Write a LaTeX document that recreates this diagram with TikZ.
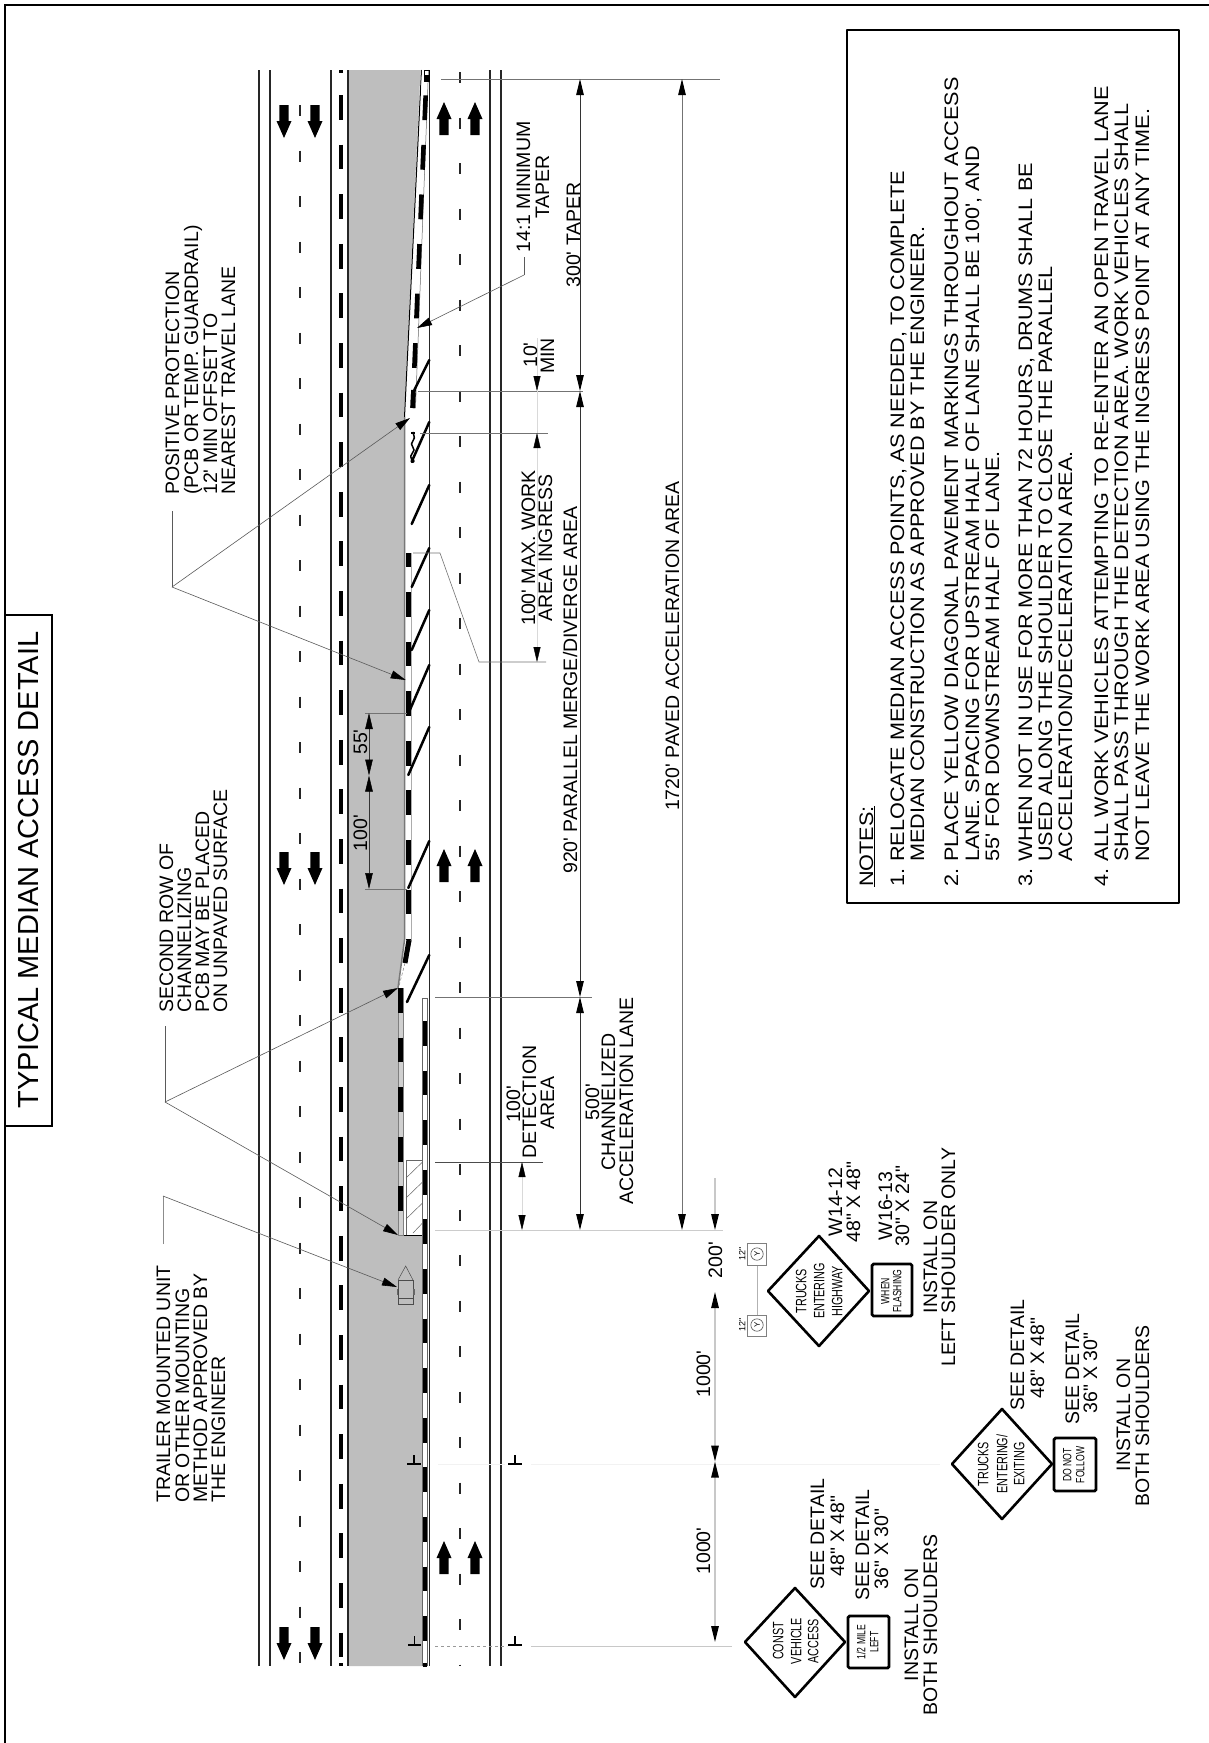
\documentclass[tikz,border=0pt]{standalone}
\usepackage{fontspec}
\newfontfamily\arl{Liberation Sans}
\newfontfamily\arlc[FakeStretch=0.72]{Liberation Sans}
\newfontfamily\arlw[FakeStretch=1.11]{Liberation Sans}
\usetikzlibrary{arrows.meta,calc}
\definecolor{paved}{RGB}{190,190,190}
\definecolor{edgegray}{RGB}{120,120,120}
\definecolor{barlight}{RGB}{208,208,208}
\definecolor{leadgray}{RGB}{90,90,90}
\definecolor{faintgray}{RGB}{200,200,200}
\tikzset{
 tipa/.tip={Triangle[length=16pt,width=7.5pt,color=black,fill=black]},
 tipb/.tip={Triangle[length=15pt,width=7pt,color=black,fill=black]},
 tipc/.tip={Triangle[length=15pt,width=8pt,color=black,fill=black]},
 lbl/.style={font=\fontsize{19.5}{20}\arl,inner sep=0pt,text height=14pt,text depth=0pt,rotate=90},
 notetxt/.style={font=\fontsize{19.5}{20}\arlw,inner sep=0pt,text height=14pt,text depth=0pt,rotate=90,anchor=west},
 signa/.style={font=\fontsize{15}{16}\arlc,inner sep=0pt,text height=10.7pt,text depth=0pt,rotate=90},
 signb/.style={font=\fontsize{12}{13}\arlc,inner sep=0pt,text height=8.6pt,text depth=0pt,rotate=90},
 iconlbl/.style={font=\fontsize{9}{10}\arl,inner sep=0pt,text height=6.5pt,text depth=0pt,rotate=90},
 roadline/.style={line width=1.4pt,draw=black!85},
 lanedash/.style={line width=1.3pt,draw=black!85,dash pattern=on 11pt off 34.5pt},
 bardash/.style={line width=5pt,draw=black,dash pattern=on 24.8pt off 24.8pt},
 diag/.style={line width=2.5pt,draw=black,line cap=round},
 leader/.style={line width=0.6pt,draw=leadgray},
 leadarrow/.style={line width=0.6pt,draw=leadgray,-tipc},
 dimline/.style={line width=0.9pt,draw=black!80,tipa-tipa},
 faintdim/.style={line width=0.4pt,draw=black!15},
 ext/.style={line width=0.7pt,draw=black!55},
 diamondsign/.style={line width=2.6pt,draw=black,line join=round,fill=white},
 boxsign/.style={line width=2.8pt,draw=black,rounded corners=1.5pt,fill=white},
 bigarrow/.style={fill=black,draw=none},
}
\newcommand{\dnarrow}[2]{\fill[bigarrow] (#1-4.7,#2) -- (#1+4.7,#2) -- (#1+4.7,#2+16) -- (#1+7.5,#2+16) -- (#1,#2+33) -- (#1-7.5,#2+16) -- (#1-4.7,#2+16) -- cycle;}
\newcommand{\uparrowx}[2]{\fill[bigarrow] (#1-4.7,#2) -- (#1+4.7,#2) -- (#1+4.7,#2-16) -- (#1+7.5,#2-16) -- (#1,#2-33) -- (#1-7.5,#2-16) -- (#1-4.7,#2-16) -- cycle;}
\newcommand{\marker}[3]{\draw[line width=2pt] (#1,#2) -- (#3,#2); \draw[line width=1.6pt] ({(#1+#3)/2},#2) -- ({(#1+#3)/2},#2-9);}
\begin{document}
\begin{tikzpicture}[x=1pt,y=-1pt]
\useasboundingbox (0,0) rectangle (1209,1743);
\fill[white] (0,0) rectangle (1209,1743);
% sheet border
\draw[line width=2pt] (5,1743) -- (5,5) -- (1209,5);
% title box
\draw[line width=1.6pt] (5,615) -- (52,615) -- (52,1126) -- (5,1126);
\node[font=\fontsize{29}{30}\arl,inner sep=0pt,text height=20.8pt,text depth=0pt,rotate=90] (title) at (28,870) {TYPICAL MEDIAN ACCESS DETAIL};
% paved median
\fill[paved] (349,70) -- (420.5,70) -- (404,417) -- (404,940) -- (398,988) -- (398,1235) -- (423,1235) -- (423,1666) -- (349,1666) -- cycle;
\draw[line width=1pt,draw=black] (421.5,70) -- (404.5,417);
\draw[line width=1.5pt,draw=edgegray] (404.5,417) -- (404.5,940) -- (398,988);
\draw[line width=2pt,draw=edgegray] (423,1235) -- (423,1666);
\draw[line width=0.9pt,draw=black] (398,1235) -- (423,1235);
% road lines
\foreach \xx in {259,270,331,348,490,501}{\draw[roadline] (\xx,70) -- (\xx,1666);}
\draw[roadline] (429.3,70) -- (429.3,1666);
% lane lines
\draw[lanedash] (300,105) -- (300,1666);
\draw[lanedash] (460,72) -- (460,1666);
% median edge line
\draw[bardash,line width=4.6pt] (341,95) -- (341,1666);
\draw[line width=4.6pt] (341,70) -- (341,73);
\draw[line width=4.6pt] (341,1663) -- (341,1666);
% travel arrows
\foreach \yy in {105,852,1627}{\dnarrow{284}{\yy}\dnarrow{315}{\yy}}
\foreach \yy in {135,882,1574}{\uparrowx{444}{\yy}\uparrowx{475}{\yy}}
% taper barrier
\fill[white] (422,70) -- (428.5,70) -- (415.5,408) -- (409.5,408) -- cycle;
\draw[line width=0.5pt,draw=black!60] (428.5,70) -- (415.5,408);
\draw[line width=4.6pt,dash pattern=on 24.8pt off 24.8pt,dash phase=24.8pt] (426.7,70.6) -- (412.7,408);
\draw[line width=1pt] (424,70) rectangle (429,81);
\fill (424.5,75) rectangle (428.5,81);
\draw[line width=4.6pt] (413.5,390) -- (412.7,408);
% parallel barrier
\fill[white] (406,553) rectangle (411.5,940);
\draw[line width=0.5pt,draw=black!50] (411.5,553) -- (411.5,940) -- (406,963);
\draw[line width=5pt] (408.7,553) -- (408.7,567);
\draw[bardash] (408.7,592) -- (408.7,940);
\draw[line width=5pt] (409,940) -- (405,963);
\draw[line width=0.5pt,dash pattern=on 3pt off 2pt,draw=black!50] (405,963) -- (398.5,988);
% second row on pavement
\draw[line width=0.4pt,draw=black!50,fill=barlight] (398,988) rectangle (403.5,1235);
\draw[bardash,line width=5.5pt] (400.7,988) -- (400.7,1235);
% hatched detection area
\draw[line width=0.6pt,draw=black!60] (406,1235) -- (406,1160) -- (426,1160);
\draw[line width=0.5pt,draw=black!60] (406,1178) -- (422.5,1162) (406,1198) -- (422.5,1182) (406,1219) -- (422.5,1203) (413,1233) -- (422.5,1223);
% channelizing barrier at lane
\draw[line width=0.5pt,draw=black!60,fill=white] (422.7,1666) -- (422.7,998) -- (427.6,998) -- (427.6,1666);
\draw[bardash,line width=4.6pt] (425.1,1021) -- (425.1,1666);
\draw[line width=4.6pt] (425.1,1663) -- (425.1,1666);
% diagonals
\draw[diag] (429.3,360) -- (414.3,390);
\draw[diag] (429.3,422) -- (411.7,461.7);
\draw[diag] (429.3,485) -- (411.7,524);
\draw[diag] (429.3,548) -- (411.7,587);
\draw[diag] (429.3,610) -- (411.7,650);
\draw[diag] (429.3,665) -- (409,712);
\draw[diag] (429.3,727) -- (408.3,775);
\draw[diag] (429.3,841) -- (408.3,888);
\draw[diag] (429.3,955) -- (407,1002);
% squiggle
\draw[line width=1.5pt] plot[smooth] coordinates {(412.7,432) (414.3,438) (411.5,444) (414,450) (410.8,456) (412.7,462)};
\draw[line width=1.5pt] (411,433) -- (414.5,433);
\fill (412.7,461) circle (2pt);
% trailer unit
\draw[line width=0.5pt,draw=black!70] (398,1280) rectangle (413,1298);
\draw[line width=0.5pt,draw=black!70] (398,1280) -- (405.7,1266) -- (413,1280);
\draw[line width=0.5pt,draw=black!70] (398,1298) rectangle (413,1304);
\fill[black!60] (396.5,1289) rectangle (398,1295);
\fill[black!60] (413,1289) rectangle (415,1295);
% T markers
\marker{407}{1464}{421}
\marker{508}{1464}{522}
\marker{408}{1645}{421}
\marker{508}{1645}{522}
% extension lines
\draw[ext] (441,79) -- (720,79);
\draw[ext] (418,391) -- (583,391);
\draw[ext] (420,433) -- (548,433);
\draw[ext] (435,997) -- (592,997);
\draw[ext,draw=black!70] (435,1162) -- (543,1162);
\draw[ext,draw=black!20] (435,1230) -- (723,1230);
\draw[ext,draw=black!5,line width=0.5pt] (438,1464) -- (505,1464) (531,1464) -- (940,1464);
\draw[ext,dashed,draw=black!40] (435,1646) -- (507,1646);
\draw[ext,line width=1pt,draw=faintgray] (531,1646) -- (732,1646);
\draw[ext] (365,713) -- (407,713);
\draw[ext] (365,889) -- (407,889);
% leader 100' max
\coordinate (m1) at (413,553); \coordinate (m2) at (440,553); \coordinate (m3) at (479,662); \coordinate (m4) at (546,662);
\draw[leader,draw=black!55] (m1) -- (m2) -- (m3) -- (m4);
% dimension lines
\coordinate (d79) at (580,79); \coordinate (d391) at (580,391); \coordinate (d997) at (580,997); \coordinate (d1230) at (580,1230);
\draw[dimline] (d79) -- (d391);
\draw[dimline] (d391) -- (d997);
\draw[dimline] (d997) -- (d1230);
\coordinate (p79) at (682,79); \coordinate (p1230) at (682,1230);
\draw[dimline,draw=black!55] (p79) -- (p1230);
\coordinate (s1) at (715,1178); \coordinate (s2) at (715,1230); \coordinate (s3) at (715,1292); \coordinate (s4) at (715,1461.5); \coordinate (s5) at (715,1642);
\draw[line width=1.3pt,draw=faintgray,-tipa] (s1) -- (s2);
\draw[line width=1.3pt,draw=faintgray,tipa-tipa] (s3) -- (s4);
\draw[line width=1.3pt,draw=faintgray,tipa-tipa] (s4) -- (s5);
% small dims
\coordinate (a1) at (369,713); \coordinate (a2) at (369,775.5); \coordinate (a3) at (369,889);
\draw[dimline,line width=0.5pt] (a1) -- (a2);
\draw[dimline,line width=0.5pt] (a2) -- (a3);
\coordinate (w1) at (537,338); \coordinate (w2) at (537,391); \coordinate (w3) at (537,433); \coordinate (w4) at (537,662);
\draw[faintdim,-tipb] (w1) -- (w2);
\draw[faintdim] (w2) -- (w3);
\draw[faintdim,tipb-tipb] (w3) -- (w4);
\coordinate (e1) at (522,1162); \coordinate (e2) at (522,1230);
\draw[faintdim,tipb-tipb] (e1) -- (e2);
% leaders with arrows
\coordinate (pa) at (172,511); \coordinate (pb) at (172,587); \coordinate (pt1) at (410,418); \coordinate (pt2) at (405.7,680);
\draw[leader] (pa) -- (pb);
\draw[leadarrow] (pb) -- (pt1);
\draw[leadarrow] (pb) -- (pt2);
\coordinate (sa) at (165,1026); \coordinate (sb) at (165,1102); \coordinate (st1) at (398,988); \coordinate (st2) at (398,1235);
\draw[leader] (sa) -- (sb);
\draw[leadarrow] (sb) -- (st1);
\draw[leadarrow] (sb) -- (st2);
\coordinate (ta) at (163,1244); \coordinate (tb) at (163,1196); \coordinate (tt) at (397,1287);
\draw[leader,draw=black!45] (ta) -- (tb);
\draw[leadarrow] (tb) -- (tt);
\coordinate (ma) at (524,257); \coordinate (mb) at (524,275); \coordinate (mt) at (417,328);
\draw[leader] (ma) -- (mb);
\draw[leadarrow] (mb) -- (mt);
% signs: trucks entering highway
\draw[diamondsign] (768,1291) -- (819,1236) -- (869,1291) -- (819,1346) -- cycle;
\node[signa] (s1a) at (801,1291) {TRUCKS};
\node[signa] (s1b) at (819,1291) {ENTERING};
\node[signa] (s1c) at (837,1291) {HIGHWAY};
\draw[boxsign] (872,1264) rectangle (912,1316);
\node[signb] (s1d) at (885,1291) {WHEN};
\node[signb] (s1e) at (897,1291) {FLASHING};
\node[lbl] (t1a) at (835,1202) {W14-12};
\node[lbl] (t1b) at (853,1202) {48" X 48"};
\node[lbl] (t1c) at (885,1206) {W16-13};
\node[lbl] (t1d) at (902,1206) {30" X 24"};
\node[lbl] (t1e) at (930,1257) {INSTALL ON};
\node[lbl] (t1f) at (948,1257) {LEFT SHOULDER ONLY};
% Y icons
\draw[line width=0.5pt,draw=black!30] (757,1265) -- (757,1315);
\draw[line width=0.7pt,draw=black!50] (747,1243) rectangle (766,1265);
\draw[line width=0.7pt,draw=black!50] (747,1315) rectangle (766,1336);
\draw[line width=0.6pt,draw=black!70] (757,1254) circle (6.2pt);
\draw[line width=0.6pt,draw=black!70] (757,1325) circle (6.2pt);
\node[iconlbl,font=\fontsize{8}{9}\arl,text height=5.7pt] (ya) at (757,1254) {Y};
\node[iconlbl,font=\fontsize{8}{9}\arl,text height=5.7pt] (yb) at (757,1325) {Y};
\node[iconlbl] (yc) at (742,1254) {12"};
\node[iconlbl] (yd) at (742,1325) {12"};
% sign 2
\draw[diamondsign] (952,1464) -- (1002,1409) -- (1052,1464) -- (1002,1519) -- cycle;
\node[signa] (s2a) at (983,1464) {TRUCKS};
\node[signa] (s2b) at (1002,1464) {ENTERING/};
\node[signa] (s2c) at (1019,1464) {EXITING};
\draw[boxsign] (1054,1438) rectangle (1096,1491);
\node[signb] (s2d) at (1067,1465) {DO NOT};
\node[signb] (s2e) at (1080,1465) {FOLLOW};
\node[lbl] (t2a) at (1017,1355) {SEE DETAIL};
\node[lbl] (t2b) at (1037,1358) {48" X 48"};
\node[lbl] (t2c) at (1072,1369) {SEE DETAIL};
\node[lbl] (t2d) at (1090,1373) {36" X 30"};
\node[lbl] (t2e) at (1123,1415) {INSTALL ON};
\node[lbl] (t2f) at (1142,1416) {BOTH SHOULDERS};
% sign 3
\draw[diamondsign] (745,1642) -- (795,1588) -- (845,1642) -- (795,1697) -- cycle;
\node[signa] (s3a) at (778,1641) {CONST};
\node[signa] (s3b) at (796,1641) {VEHICLE};
\node[signa] (s3c) at (813,1641) {ACCESS};
\draw[boxsign] (848,1616) rectangle (889,1668);
\node[signb] (s3d) at (861,1642) {1/2 MILE};
\node[signb] (s3e) at (874,1642) {LEFT};
\node[lbl] (t3a) at (817,1534) {SEE DETAIL};
\node[lbl] (t3b) at (837,1536) {48" X 48"};
\node[lbl] (t3c) at (862,1545) {SEE DETAIL};
\node[lbl] (t3d) at (881,1549) {36" X 30"};
\node[lbl] (t3e) at (911,1625) {INSTALL ON};
\node[lbl] (t3f) at (930,1625) {BOTH SHOULDERS};
% dimension texts
\node[lbl,fill=white,text height=14pt] (l200) at (715,1260) {200'};
\node[lbl] (l1000a) at (703,1374) {1000'};
\node[lbl] (l1000b) at (703,1551) {1000'};
\node[lbl] (l55) at (360,742) {55'};
\node[lbl] (l100) at (360,833) {100'};
\node[lbl] (lmin1) at (523,187) {14:1 MINIMUM};
\node[lbl] (lmin2) at (542,187) {TAPER};
\node[lbl] (ltaper) at (573,235) {300' TAPER};
\node[lbl] (l10) at (530,355) {10'};
\node[lbl] (lminn) at (547,356) {MIN};
\node[lbl] (lw1) at (528,548) {100' MAX. WORK};
\node[lbl] (lw2) at (545,548) {AREA INGRESS};
\node[lbl] (lmerge) at (570,690) {920' PARALLEL MERGE/DIVERGE AREA};
\node[lbl] (lpaved) at (672,646) {1720' PAVED ACCELERATION AREA};
\node[lbl] (ld1) at (513,1104) {100'};
\node[lbl] (ld2) at (529,1102) {DETECTION};
\node[lbl] (ld3) at (547,1103) {AREA};
\node[lbl] (lc1) at (592,1102) {500'};
\node[lbl] (lc2) at (608,1102) {CHANNELIZED};
\node[lbl] (lc3) at (626,1101) {ACCELERATION LANE};
% callouts
\node[lbl,anchor=west] (cp1) at (172,495) {POSITIVE PROTECTION};
\node[lbl,anchor=west] (cp2) at (191,495) {(PCB OR TEMP. GUARDRAIL)};
\node[lbl,anchor=west] (cp3) at (210,495) {12' MIN OFFSET TO};
\node[lbl,anchor=west] (cp4) at (228,495) {NEAREST TRAVEL LANE};
\node[lbl,anchor=west] (cs1) at (166,1013) {SECOND ROW OF};
\node[lbl,anchor=west] (cs2) at (184,1013) {CHANNELIZING};
\node[lbl,anchor=west] (cs3) at (202,1013) {PCB MAY BE PLACED};
\node[lbl,anchor=west] (cs4) at (220,1013) {ON UNPAVED SURFACE};
\node[lbl,anchor=west] (ct1) at (163,1503) {TRAILER MOUNTED UNIT};
\node[lbl,anchor=west] (ct2) at (182,1503) {OR OTHER MOUNTING};
\node[lbl,anchor=west] (ct3) at (200,1503) {METHOD APPROVED BY};
\node[lbl,anchor=west] (ct4) at (218,1503) {THE ENGINEER};
% notes
\draw[line width=2pt,line join=round] (847,30) rectangle (1179,903);
\node[notetxt] (nt) at (866,887) {\underline{NOTES:}};
\node[notetxt] (n1n) at (897,887) {1.};
\node[notetxt] (n1a) at (897,862) {RELOCATE MEDIAN ACCESS POINTS, AS NEEDED, TO COMPLETE};
\node[notetxt] (n1b) at (917,862) {MEDIAN CONSTRUCTION AS APPROVED BY THE ENGINEER.};
\node[notetxt] (n2n) at (951,887) {2.};
\node[notetxt] (n2a) at (951,862) {PLACE YELLOW DIAGONAL PAVEMENT MARKINGS THROUGHOUT ACCESS};
\node[notetxt] (n2b) at (972,862) {LANE. SPACING FOR UPSTREAM HALF OF LANE SHALL BE 100', AND};
\node[notetxt] (n2c) at (992,862) {55' FOR DOWNSTREAM HALF OF LANE.};
\node[notetxt] (n3n) at (1025,887) {3.};
\node[notetxt] (n3a) at (1025,862) {WHEN NOT IN USE FOR MORE THAN 72 HOURS, DRUMS SHALL BE};
\node[notetxt] (n3b) at (1045,862) {USED ALONG THE SHOULDER TO CLOSE THE PARALLEL};
\node[notetxt] (n3c) at (1065,862) {ACCELERATION/DECELERATION AREA.};
\node[notetxt] (n4n) at (1101,887) {4.};
\node[notetxt] (n4a) at (1101,862) {ALL WORK VEHICLES ATTEMPTING TO RE-ENTER AN OPEN TRAVEL LANE};
\node[notetxt] (n4b) at (1121,862) {SHALL PASS THROUGH THE DETECTION AREA. WORK VEHICLES SHALL};
\node[notetxt] (n4c) at (1142,862) {NOT LEAVE THE WORK AREA USING THE INGRESS POINT AT ANY TIME.};
\end{tikzpicture}
\end{document}
